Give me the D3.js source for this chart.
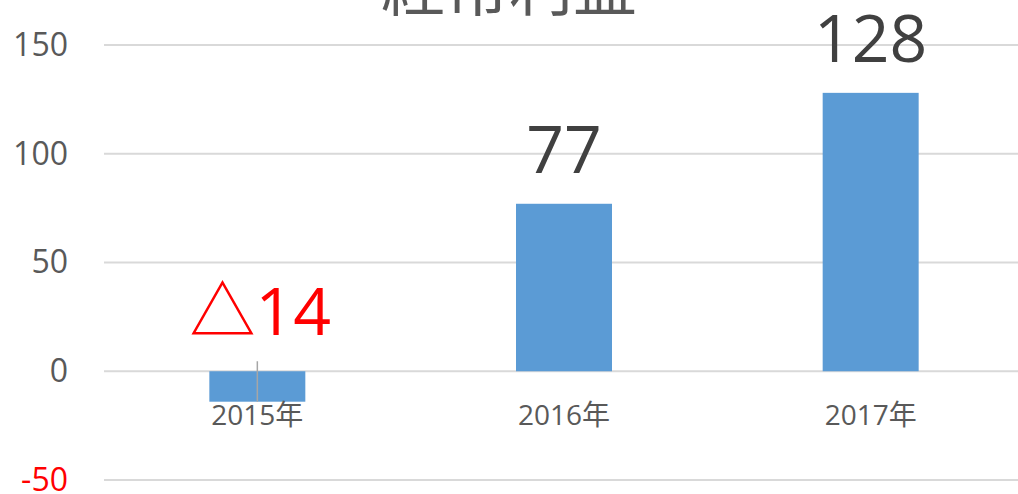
<!DOCTYPE html>
<html>
<head>
<meta charset="utf-8">
<script src="https://cdn.jsdelivr.net/npm/d3@7"></script>
<style>
  body { margin: 0; background: #fff; }
  svg { display: block; }
</style>
</head>
<body>
<div class="chart"></div>
<script>
// chart data
var categories = ["2015年", "2016年", "2017年"];
var values = [-14, 77, 128];
var valueLabels = ["△14", "77", "128"];
var yTicks = [-50, 0, 50, 100, 150];
var title = "経常利益";

var svgWidth = 1018;
var svgHeight = 494;

var svg = d3.select(".chart")
  .append("svg")
  .attr("width", svgWidth)
  .attr("height", svgHeight);

var xScale = d3.scaleBand()
  .domain(categories)
  .range([104, 1024])
  .padding(0);

var yScale = d3.scaleLinear()
  .domain([-50, 150])
  .range([480, 45]);

var barWidth = xScale.bandwidth() * 0.313;

// gridlines
svg.append("g")
  .selectAll("line")
  .data(yTicks)
  .enter()
  .append("line")
  .attr("x1", 104)
  .attr("x2", svgWidth)
  .attr("y1", d => yScale(d))
  .attr("y2", d => yScale(d))
  .attr("stroke", "#d9d9d9")
  .attr("stroke-width", 2);

// y axis labels (plain hyphen for negatives, like the original)
var leftAxis = d3.axisLeft(yScale)
  .tickValues(yTicks)
  .tickFormat(d => String(d))
  .tickSize(0)
  .tickPadding(0);
var yAxis = svg.append("g")
  .attr("transform", "translate(68,0)")
  .call(leftAxis);
yAxis.select(".domain").remove();
yAxis.selectAll("text")
  .attr("font-family", "'Open Sans', sans-serif")
  .attr("font-size", 32)
  .attr("fill", d => d < 0 ? "#ff0000" : "#595959");

// bars
svg.append("g")
  .selectAll("rect")
  .data(values)
  .enter()
  .append("rect")
  .attr("x", (d, i) => xScale(categories[i]) + xScale.bandwidth() / 2 - barWidth / 2)
  .attr("y", d => yScale(Math.max(d, 0)))
  .attr("width", barWidth)
  .attr("height", d => Math.abs(yScale(d) - yScale(0)))
  .attr("fill", "#5b9bd5");

// category axis tick in the negative bar
values.forEach(function (d, i) {
  if (d < 0) {
    var cx = xScale(categories[i]) + xScale.bandwidth() / 2;
    svg.append("line")
      .attr("x1", cx)
      .attr("x2", cx)
      .attr("y1", yScale(0) - 10)
      .attr("y2", yScale(d))
      .attr("stroke", "#a6a6a6")
      .attr("stroke-width", 1.5);
  }
});

// category labels
svg.append("g")
  .selectAll("text")
  .data(categories)
  .enter()
  .append("text")
  .attr("x", d => xScale(d) + xScale.bandwidth() / 2)
  .attr("y", 425)
  .attr("text-anchor", "middle")
  .attr("font-family", "'Open Sans', 'Noto Sans CJK JP', sans-serif")
  .attr("font-size", 28)
  .attr("fill", "#595959")
  .text(d => d);

// value labels
svg.append("g")
  .selectAll("text")
  .data(values)
  .enter()
  .append("text")
  .attr("x", (d, i) => xScale(categories[i]) + xScale.bandwidth() / 2 + (d < 0 ? 3 : 0))
  .attr("y", d => yScale(Math.max(d, 0)) - (d < 0 ? 36 : 31))
  .attr("text-anchor", "middle")
  .attr("font-family", "'Open Sans', 'Noto Sans CJK JP', sans-serif")
  .attr("font-size", 66)
  .attr("fill", d => d < 0 ? "#ff0000" : "#404040")
  .text((d, i) => valueLabels[i]);

// title (partly off the top of the picture)
svg.append("text")
  .attr("x", 509)
  .attr("y", 10)
  .attr("text-anchor", "middle")
  .attr("font-family", "'Noto Sans CJK JP', sans-serif")
  .attr("font-size", 64)
  .attr("fill", "#595959")
  .text(title);
</script>
</body>
</html>
